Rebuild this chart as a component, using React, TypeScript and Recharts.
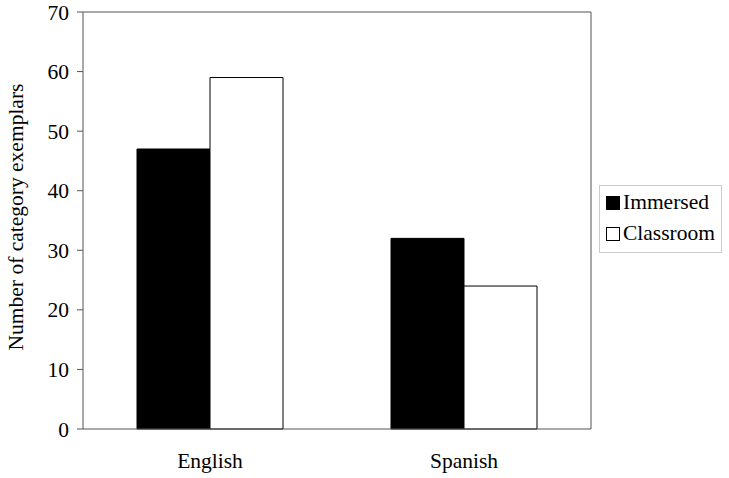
import { Bar, BarChart, ReferenceLine, XAxis, YAxis } from "recharts";

const LANGUAGES = ["English", "Spanish"];
const IMMERSED = [47, 32];
const CLASSROOM = [59, 24];
const Y_TICKS = [0, 10, 20, 30, 40, 50, 60, 70];

const data = LANGUAGES.map((name, i) => ({
  name,
  immersed: IMMERSED[i],
  classroom: CLASSROOM[i],
}));

const FONT = "'Liberation Serif', 'Times New Roman', serif";
const FONT_SIZE = 21.5;
const AXIS = "#555555";

const legendItems = [
  { label: "Immersed", fill: "#000000" },
  { label: "Classroom", fill: "#ffffff" },
];

function LegendBox() {
  return (
    <div
      style={{
        position: "absolute",
        left: 599,
        top: 185,
        width: 110,
        border: "1px solid #cccccc",
        padding: "1px 5px 3px 6px",
        fontFamily: FONT,
        fontSize: FONT_SIZE,
        color: "#000",
        lineHeight: "31px",
        background: "#fff",
      }}
    >
      {legendItems.map((it) => (
        <div key={it.label} style={{ display: "flex", alignItems: "center" }}>
          <span
            style={{
              display: "inline-block",
              width: 12,
              height: 12,
              border: "1px solid #000",
              background: it.fill,
              marginRight: 3,
            }}
          />
          {it.label}
        </div>
      ))}
    </div>
  );
}

function YLabel() {
  return (
    <text
      x={23}
      y={217}
      transform="rotate(-90 23 217)"
      textAnchor="middle"
      fontFamily={FONT}
      fontSize={FONT_SIZE}
      fill="#000"
    >
      Number of category exemplars
    </text>
  );
}

function YTick(props: any) {
  const { x, y, payload } = props;
  return (
    <text x={x} y={y} dy={7.5} textAnchor="end" fontFamily={FONT} fontSize={FONT_SIZE} fill="#000">
      {payload.value}
    </text>
  );
}

function XTick(props: any) {
  const { x, payload } = props;
  return (
    <text x={x} y={468} textAnchor="middle" fontFamily={FONT} fontSize={FONT_SIZE} fill="#000">
      {payload.value}
    </text>
  );
}

export default function App() {
  return (
    <div style={{ position: "absolute", left: 0, top: 0, width: 729, height: 478, background: "#fff" }}>
      <BarChart
        width={729}
        height={478}
        data={data}
        margin={{ top: 12, right: 137, bottom: 0, left: 0 }}
        barCategoryGap={54}
        barGap={0}
      >
        <XAxis dataKey="name" height={49} stroke={AXIS} tickLine={false} tick={<XTick />} />
        <YAxis
          width={83}
          domain={[0, 70]}
          ticks={Y_TICKS}
          interval={0}
          stroke={AXIS}
          tickSize={6}
          tickMargin={8}
          tick={<YTick />}
          label={{ position: "center", content: () => <YLabel /> }}
        />
        <YAxis yAxisId="right" orientation="right" width={1} stroke={AXIS} tick={false} tickLine={false} />
        <ReferenceLine y={70} stroke={AXIS} />
        <Bar dataKey="immersed" fill="#000000" stroke="#000000" strokeWidth={1} isAnimationActive={false} />
        <Bar dataKey="classroom" fill="#ffffff" stroke="#000000" strokeWidth={1} isAnimationActive={false} />
      </BarChart>
      <LegendBox />
    </div>
  );
}
